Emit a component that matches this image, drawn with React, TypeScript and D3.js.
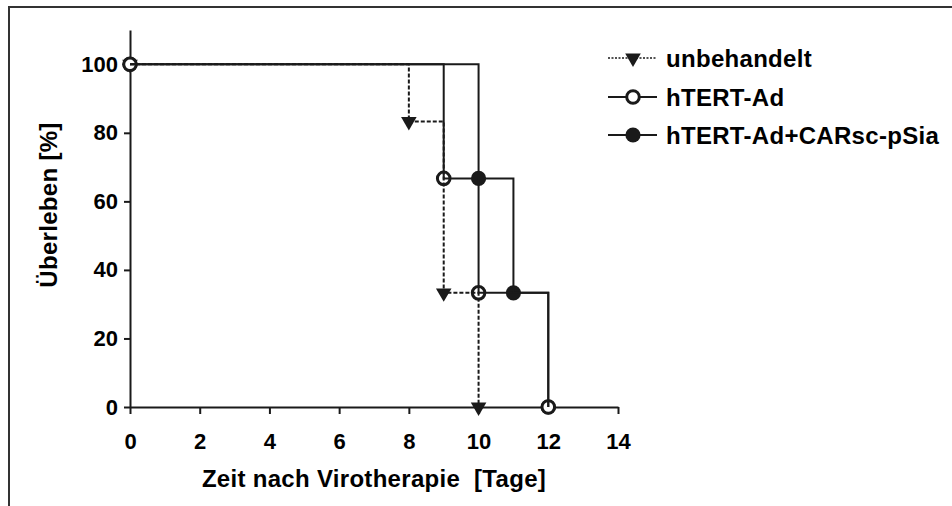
import * as d3 from 'd3'
import { useEffect, useRef } from 'react'

// survival data (days after virotherapy, % surviving)
const untreatedDays = [0, 8, 9, 10]
const untreatedSurv = [100, 83.3, 33.3, 0]
const htertDays = [0, 9, 10, 12]
const htertSurv = [100, 66.7, 33.3, 0]
const comboDays = [0, 10, 11, 12]
const comboSurv = [100, 66.7, 33.3, 0]

const seriesNames = ['unbehandelt', 'hTERT-Ad', 'hTERT-Ad+CARsc-pSia']
const xTicks = [0, 2, 4, 6, 8, 10, 12, 14]
const yTicks = [0, 20, 40, 60, 80, 100]

const W = 952
const H = 506
const ink = '#1a1a1a'
const font = '"Liberation Sans", Arial, sans-serif'

export default function App() {
  const ref = useRef<SVGSVGElement>(null)

  useEffect(() => {
    const svg = d3.select(ref.current)
    svg.selectAll('*').remove()

    // outer frame (runs off the right and bottom of the picture)
    svg
      .append('rect')
      .attr('x', 9)
      .attr('y', 7)
      .attr('width', 1200)
      .attr('height', 800)
      .attr('fill', 'white')
      .attr('stroke', '#333')
      .attr('stroke-width', 2)

    const x = d3.scaleLinear().domain([0, 14]).range([130, 618])
    const y = d3.scaleLinear().domain([0, 110]).range([407, 30])

    const yAxis = d3
      .axisLeft(y)
      .tickValues(yTicks)
      .tickSizeInner(6)
      .tickSizeOuter(0)
      .tickPadding(6)
    const gy = svg.append('g').attr('transform', `translate(${x(0)},0)`).call(yAxis)

    const xAxis = d3
      .axisBottom(x)
      .tickValues(xTicks)
      .tickSizeInner(7)
      .tickSizeOuter(0)
      .tickPadding(18)
    const gx = svg.append('g').attr('transform', `translate(0,${y(0)})`).call(xAxis)

    for (const g of [gx, gy]) {
      g.select('.domain').attr('stroke', ink).attr('stroke-width', 2)
      g.selectAll('.tick line').attr('stroke', ink).attr('stroke-width', 2)
      g.selectAll('.tick text')
        .attr('fill', 'black')
        .style('font-family', font)
        .style('font-weight', 'bold')
        .style('font-size', '22px')
    }
    gx.selectAll('.tick text').attr('dy', '0.35em').attr('y', 34)

    // axis titles
    svg
      .append('text')
      .attr('x', (x(0) + x(14)) / 2)
      .attr('y', 487)
      .attr('text-anchor', 'middle')
      .style('font-family', font)
      .style('font-weight', 'bold')
      .style('font-size', '24px')
      .style('letter-spacing', '0.3px')
      .style('white-space', 'pre')
      .text('Zeit nach Virotherapie  [Tage]')

    svg
      .append('text')
      .attr('transform', `translate(57,205) rotate(-90)`)
      .attr('text-anchor', 'middle')
      .style('font-family', font)
      .style('font-weight', 'bold')
      .style('font-size', '24px')
      .style('letter-spacing', '0.3px')
      .text('Überleben [%]')

    const tri = d3.symbol().type(d3.symbolTriangle).size(105)
    const drawTri = (g: any, cx: number, cy: number) =>
      g
        .append('path')
        .attr('d', tri() as string)
        .attr('transform', `translate(${cx},${cy}) rotate(180)`)
        .attr('fill', ink)
    const drawOpen = (g: any, cx: number, cy: number) =>
      g
        .append('circle')
        .attr('cx', cx)
        .attr('cy', cy)
        .attr('r', 6.3)
        .attr('fill', 'white')
        .attr('stroke', ink)
        .attr('stroke-width', 3)
    const drawFilled = (g: any, cx: number, cy: number) =>
      g.append('circle').attr('cx', cx).attr('cy', cy).attr('r', 7.6).attr('fill', ink)

    const marks = svg.append('g')
    untreatedDays.forEach((d, i) => drawTri(marks, x(d), y(untreatedSurv[i])))
    comboDays.forEach((d, i) => drawFilled(marks, x(d), y(comboSurv[i])))
    htertDays.forEach((d, i) => drawOpen(marks, x(d), y(htertSurv[i])))

    const step = d3
      .line<[number, number]>()
      .x((d) => x(d[0]))
      .y((d) => y(d[1]))
      .curve(d3.curveStepAfter)

    const lines = svg.append('g').attr('fill', 'none').attr('stroke', ink)
    lines
      .append('path')
      .attr('d', step(untreatedDays.map((d, i) => [d, untreatedSurv[i]])))
      .attr('stroke-width', 2)
      .attr('stroke-dasharray', '4,2')
    lines
      .append('path')
      .attr('d', step(htertDays.map((d, i) => [d, htertSurv[i]])))
      .attr('stroke-width', 2)
    lines
      .append('path')
      .attr('d', step(comboDays.map((d, i) => [d, comboSurv[i]])))
      .attr('stroke-width', 2)

    // legend
    const legRows = [58, 97, 135]
    const leg = svg.append('g')
    seriesNames.forEach((name, i) => {
      const ly = legRows[i]
      leg
        .append('line')
        .attr('x1', 608)
        .attr('x2', 657)
        .attr('y1', ly)
        .attr('y2', ly)
        .attr('stroke', ink)
        .attr('stroke-width', i === 0 ? 1.3 : 2)
        .attr('stroke-dasharray', i === 0 ? '2,1.5' : null)
      if (i === 0) drawTri(leg, 633, ly)
      if (i === 1) drawOpen(leg, 633, ly)
      if (i === 2) drawFilled(leg, 633, ly)
      leg
        .append('text')
        .attr('x', 666)
        .attr('y', ly)
        .attr('dy', '0.36em')
        .style('font-family', font)
        .style('font-weight', 'bold')
        .style('font-size', '24px')
        .style('letter-spacing', '0.3px')
        .text(name)
    })
  }, [])

  return (
    <svg
      ref={ref}
      width={W}
      height={H}
      style={{ position: 'absolute', left: 0, top: 0, background: 'white' }}
    />
  )
}
